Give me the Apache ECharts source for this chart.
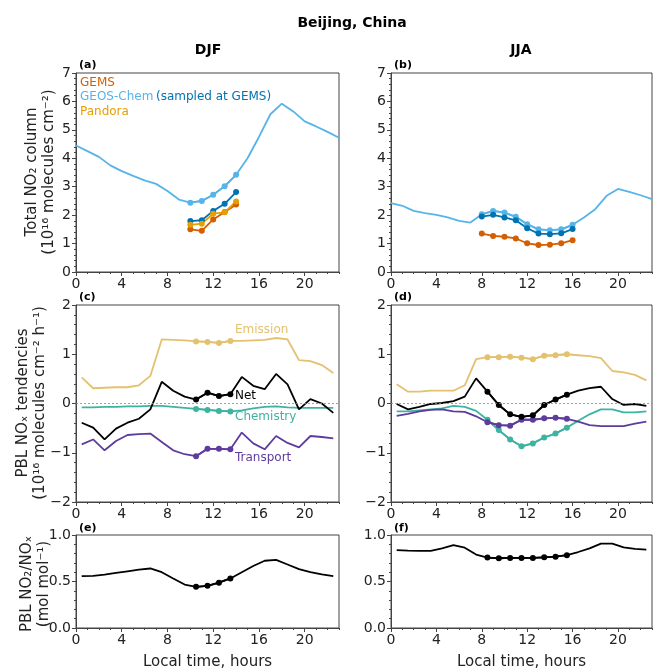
<!DOCTYPE html>
<html>
<head>
<meta charset="utf-8">
<script src="https://cdn.jsdelivr.net/npm/echarts@6/dist/echarts.min.js"></script>
<style>
  html, body { margin: 0; padding: 0; background: #fff; }
  #chart { width: 653px; height: 671px; }
</style>
</head>
<body>
<div id="chart"></div>
<script>
// hourly x for the column panels, half-hour x for the PBL panels
const hours = [0, 1, 2, 3, 4, 5, 6, 7, 8, 9, 10, 11, 12, 13, 14, 15, 16, 17, 18, 19, 20, 21, 22, 23];
const halfHours = [0.5, 1.5, 2.5, 3.5, 4.5, 5.5, 6.5, 7.5, 8.5, 9.5, 10.5, 11.5, 12.5, 13.5, 14.5, 15.5, 16.5, 17.5, 18.5, 19.5, 20.5, 21.5, 22.5];
const xTickLabels = [0, 4, 8, 12, 16, 20];

// (a) DJF total NO2 column
const gcColDJF = [4.45, 4.25, 4.05, 3.75, 3.55, 3.38, 3.22, 3.1, 2.85, 2.55, 2.44, 2.5, 2.72, 3.02, 3.42, 4.0, 4.75, 5.55, 5.92, 5.65, 5.3, 5.12, 4.93, 4.72];
const obsHoursDJF = [10, 11, 12, 13, 14];
const gcSampDJF = [1.79, 1.82, 2.15, 2.4, 2.81];
const gemsDJF = [1.5, 1.45, 1.85, 2.11, 2.37];
const pandoraDJF = [1.66, 1.7, 2.05, 2.1, 2.48];

// (b) JJA total NO2 column
const gcColJJA = [2.42, 2.33, 2.15, 2.07, 2.01, 1.92, 1.8, 1.74, 2.03, 2.15, 2.09, 1.94, 1.68, 1.5, 1.47, 1.5, 1.66, 1.92, 2.21, 2.68, 2.92, 2.82, 2.7, 2.56];
const obsHoursJJA = [8, 9, 10, 11, 12, 13, 14, 15, 16];
const gcSampJJA = [1.95, 2.01, 1.92, 1.82, 1.54, 1.35, 1.33, 1.36, 1.51];
const gemsJJA = [1.35, 1.27, 1.24, 1.18, 1.01, 0.95, 0.96, 1.01, 1.12];

// (c) DJF PBL NOx tendencies
const emisDJF = [0.53, 0.31, 0.32, 0.33, 0.33, 0.37, 0.56, 1.3, 1.29, 1.28, 1.26, 1.25, 1.23, 1.27, 1.27, 1.28, 1.29, 1.33, 1.3, 0.88, 0.86, 0.78, 0.62];
const chemDJF = [-0.08, -0.08, -0.07, -0.07, -0.06, -0.06, -0.05, -0.05, -0.07, -0.09, -0.11, -0.13, -0.15, -0.16, -0.14, -0.1, -0.07, -0.06, -0.08, -0.09, -0.09, -0.09, -0.09];
const transDJF = [-0.83, -0.73, -0.95, -0.76, -0.64, -0.62, -0.61, -0.78, -0.95, -1.03, -1.07, -0.92, -0.92, -0.93, -0.59, -0.81, -0.93, -0.66, -0.8, -0.89, -0.66, -0.68, -0.71];
const netDJF = [-0.39, -0.49, -0.73, -0.51, -0.39, -0.31, -0.12, 0.44, 0.26, 0.14, 0.08, 0.22, 0.15, 0.19, 0.54, 0.36, 0.29, 0.6, 0.39, -0.12, 0.09, 0.0, -0.19];

// (d) JJA PBL NOx tendencies
const emisJJA = [0.39, 0.24, 0.24, 0.26, 0.26, 0.26, 0.37, 0.9, 0.94, 0.94, 0.95, 0.93, 0.9, 0.97, 0.98, 1.0, 0.98, 0.96, 0.92, 0.66, 0.63, 0.58, 0.47];
const chemJJA = [-0.16, -0.16, -0.14, -0.12, -0.1, -0.05, -0.07, -0.15, -0.33, -0.54, -0.73, -0.87, -0.81, -0.69, -0.61, -0.49, -0.35, -0.22, -0.12, -0.12, -0.18, -0.18, -0.16];
const transJJA = [-0.25, -0.21, -0.16, -0.13, -0.12, -0.16, -0.17, -0.26, -0.38, -0.44, -0.45, -0.33, -0.33, -0.3, -0.29, -0.31, -0.37, -0.44, -0.46, -0.46, -0.46, -0.41, -0.37];
const netJJA = [-0.01, -0.12, -0.07, -0.01, 0.01, 0.05, 0.14, 0.51, 0.24, -0.03, -0.22, -0.27, -0.24, -0.03, 0.08, 0.18, 0.26, 0.31, 0.34, 0.09, -0.03, -0.01, -0.05];

// (e), (f) PBL NO2/NOx
const ratioDJF = [0.557, 0.56, 0.573, 0.593, 0.61, 0.627, 0.64, 0.6, 0.533, 0.467, 0.443, 0.453, 0.487, 0.533, 0.6, 0.667, 0.723, 0.733, 0.683, 0.633, 0.6, 0.577, 0.557];
const ratioJJA = [0.837, 0.833, 0.83, 0.83, 0.857, 0.89, 0.863, 0.79, 0.757, 0.75, 0.753, 0.753, 0.753, 0.76, 0.767, 0.783, 0.817, 0.857, 0.907, 0.907, 0.867, 0.85, 0.843];

// index ranges of the satellite overpass hours
const ovDJF = [10, 14];
const ovJJA = [8, 16];

const C = {
  gems: '#D55E00', gc: '#56B4E9', gcs: '#0072B2', pandora: '#E69F00',
  emis: '#E3C16F', chem: '#3DB3A2', trans: '#5E3C9E', net: '#000000'
};
const FONT = 'DejaVu Sans';
const AX = '#444';

const grids = [
  { left: 76, top: 73, width: 263, height: 199 },
  { left: 391, top: 73, width: 261, height: 199 },
  { left: 76, top: 305, width: 263, height: 197 },
  { left: 391, top: 305, width: 261, height: 197 },
  { left: 76, top: 535, width: 263, height: 98 },
  { left: 391, top: 535, width: 261, height: 98 }
].map(g => Object.assign(g, { show: true, borderColor: AX, borderWidth: 1, backgroundColor: 'transparent' }));

const fmtNum = (v, d) => (v < 0 ? '\u2212' : '') + Math.abs(v).toFixed(d);

const xAxes = [];
grids.forEach((g, i) => {
  // labelled axis with major ticks every 4 h
  xAxes.push({
    type: 'value', gridIndex: i, min: 0, max: 23, position: 'bottom',
    axisLine: { show: true, onZero: false, lineStyle: { color: AX } },
    axisTick: { show: true, length: 4, customValues: xTickLabels, lineStyle: { color: AX } },
    axisLabel: { customValues: xTickLabels, fontSize: 14, color: '#222', fontFamily: FONT, margin: 5 },
    splitLine: { show: false },
    name: i >= 4 ? 'Local time, hours' : '',
    nameLocation: 'middle', nameGap: 27,
    nameTextStyle: { fontSize: 15, color: '#222', fontFamily: FONT }
  });
  // hourly minor ticks
  xAxes.push({
    type: 'value', gridIndex: i, min: 0, max: 23, interval: 1, position: 'bottom',
    axisLine: { show: false, onZero: false },
    axisTick: { show: true, length: 2, lineStyle: { color: AX } },
    axisLabel: { show: false }, splitLine: { show: false }
  });
});

const yRange = [[0, 7, 1, 0], [0, 7, 1, 0], [-2, 2, 1, 0], [-2, 2, 1, 0], [0, 1, 0.5, 1], [0, 1, 0.5, 1]];
const yAxes = yRange.map((r, i) => ({
  type: 'value', gridIndex: i, min: r[0], max: r[1], interval: r[2],
  axisLine: { show: true, onZero: false, lineStyle: { color: AX } },
  axisTick: { show: true, length: 4, lineStyle: { color: AX } },
  minorTick: { show: true, splitNumber: 5, length: 2, lineStyle: { color: AX } },
  axisLabel: { fontSize: 14, color: '#222', fontFamily: FONT, margin: 5, formatter: v => fmtNum(v, r[3]) },
  splitLine: { show: false }
}));

function line(grid, xs, ys, color, withSymbols, extra) {
  return Object.assign({
    type: 'line', xAxisIndex: grid * 2, yAxisIndex: grid,
    data: ys.map((y, k) => [xs[k], y]),
    showSymbol: withSymbols, symbol: 'circle', symbolSize: 6,
    lineStyle: { color: color, width: 1.8 }, itemStyle: { color: color },
    silent: true, animation: false
  }, extra || {});
}

const zeroLine = {
  markLine: {
    silent: true, symbol: ['none', 'none'], label: { show: false },
    lineStyle: { color: '#888', width: 0.8, type: [2, 2] },
    data: [{ yAxis: 0 }]
  }
};

const series = [
  // (a)
  line(0, hours, gcColDJF, C.gc, false),
  line(0, obsHoursDJF, gcColDJF.slice(ovDJF[0], ovDJF[1] + 1), C.gc, true),
  line(0, obsHoursDJF, gcSampDJF, C.gcs, true),
  line(0, obsHoursDJF, gemsDJF, C.gems, true),
  line(0, obsHoursDJF, pandoraDJF, C.pandora, true),
  // (b)
  line(1, hours, gcColJJA, C.gc, false),
  line(1, obsHoursJJA, gcColJJA.slice(ovJJA[0], ovJJA[1] + 1), C.gc, true),
  line(1, obsHoursJJA, gcSampJJA, C.gcs, true),
  line(1, obsHoursJJA, gemsJJA, C.gems, true)
];

[[2, emisDJF, chemDJF, transDJF, netDJF, [10, 13]], [3, emisJJA, chemJJA, transJJA, netJJA, [8, 15]]].forEach(p => {
  const [g, em, ch, tr, nt, ov] = p;
  const xs = halfHours.slice(ov[0], ov[1] + 1);
  series.push(line(g, halfHours, em, C.emis, false, zeroLine));
  [[em, C.emis], [ch, C.chem], [tr, C.trans], [nt, C.net]].forEach(([arr, col], k) => {
    if (k > 0) series.push(line(g, halfHours, arr, col, false));
    series.push(line(g, xs, arr.slice(ov[0], ov[1] + 1), col, true));
  });
});

[[4, ratioDJF, [10, 13]], [5, ratioJJA, [8, 15]]].forEach(([g, arr, ov]) => {
  series.push(line(g, halfHours, arr, '#000', false));
  series.push(line(g, halfHours.slice(ov[0], ov[1] + 1), arr.slice(ov[0], ov[1] + 1), '#000', true));
});

function txt(x, y, text, size, color, opts) {
  const o = opts || {};
  return {
    type: 'text', x: x, y: y, rotation: o.rot || 0, silent: true,
    style: {
      text: text, fill: color, fontSize: size, fontFamily: FONT,
      fontWeight: o.bold ? 'bold' : 'normal', lineHeight: o.lh || size * 1.2,
      textAlign: o.align || 'center', align: o.align || 'center',
      textVerticalAlign: 'middle', verticalAlign: 'middle'
    }
  };
}

const graphics = [
  txt(352, 23, 'Beijing, China', 14, '#000', { bold: true }),
  txt(208, 50, 'DJF', 14, '#000', { bold: true }),
  txt(521, 50, 'JJA', 14, '#000', { bold: true }),
  txt(79, 65, '(a)', 11, '#000', { bold: true, align: 'left' }),
  txt(394, 65, '(b)', 11, '#000', { bold: true, align: 'left' }),
  txt(79, 297, '(c)', 11, '#000', { bold: true, align: 'left' }),
  txt(394, 297, '(d)', 11, '#000', { bold: true, align: 'left' }),
  txt(79, 528, '(e)', 11, '#000', { bold: true, align: 'left' }),
  txt(394, 528, '(f)', 11, '#000', { bold: true, align: 'left' }),
  // y-axis titles
  txt(41, 172, 'Total NO\u2082 column\n(10\u00b9\u2076 molecules cm\u207b\u00b2)', 15, '#222', { rot: Math.PI / 2, lh: 17 }),
  txt(32, 403, 'PBL NO\u2093 tendencies\n(10\u00b9\u2076 molecules cm\u207b\u00b2 h\u207b\u00b9)', 15, '#222', { rot: Math.PI / 2, lh: 17 }),
  txt(36, 584, 'PBL NO\u2082/NO\u2093\n(mol mol\u207b\u00b9)', 15, '#222', { rot: Math.PI / 2, lh: 17 }),
  // legend of (a)
  txt(80, 83, 'GEMS', 12, C.gems, { align: 'left' }),
  txt(80, 97, 'GEOS-Chem', 12, C.gc, { align: 'left' }),
  txt(156, 97, '(sampled at GEMS)', 12, C.gcs, { align: 'left' }),
  txt(80, 112, 'Pandora', 12, C.pandora, { align: 'left' }),
  // line names in (c)
  txt(235, 330, 'Emission', 12, C.emis, { align: 'left' }),
  txt(235, 396, 'Net', 12, C.net, { align: 'left' }),
  txt(235, 417, 'Chemistry', 12, C.chem, { align: 'left' }),
  txt(235, 458, 'Transport', 12, C.trans, { align: 'left' })
];

const chart = echarts.init(document.getElementById('chart'));
chart.setOption({
  animation: false,
  backgroundColor: '#fff',
  textStyle: { fontFamily: FONT },
  grid: grids,
  xAxis: xAxes,
  yAxis: yAxes,
  series: series,
  graphic: graphics
});
</script>
</body>
</html>
